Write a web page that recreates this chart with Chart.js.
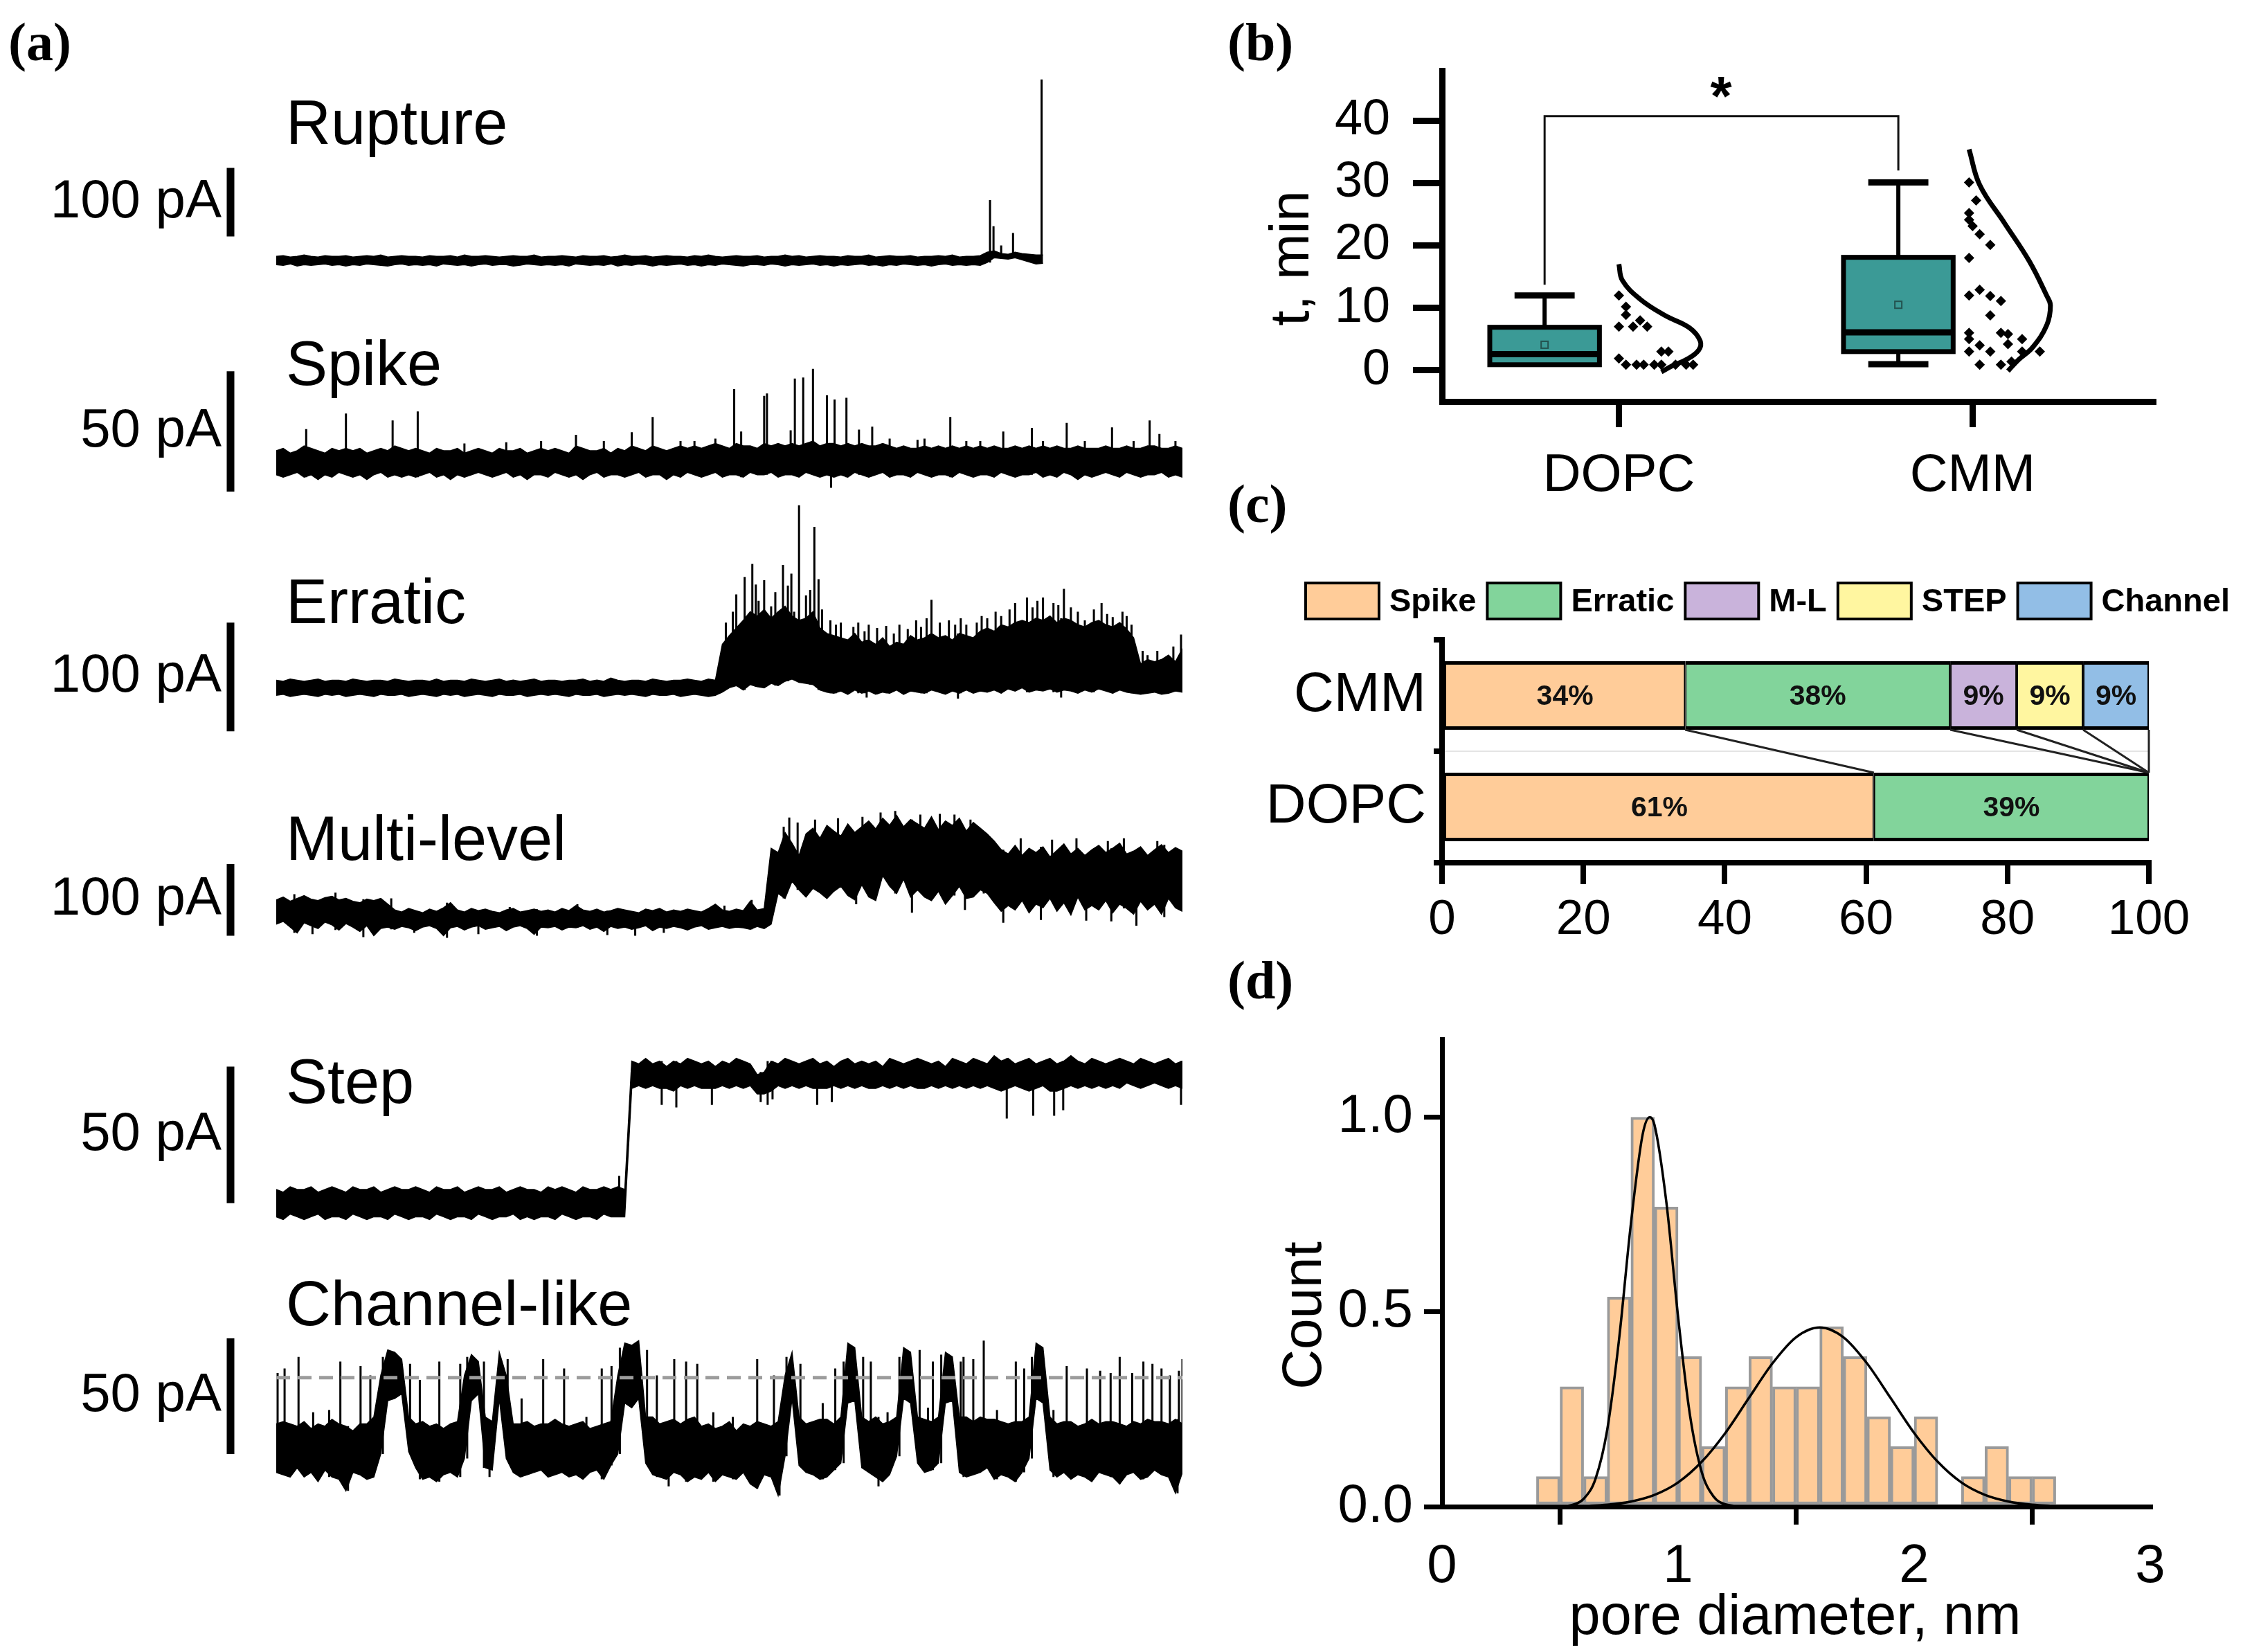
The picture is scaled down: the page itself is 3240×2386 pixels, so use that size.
<!DOCTYPE html>
<html>
<head>
<meta charset="utf-8">
<script src="https://cdn.jsdelivr.net/npm/chart.js@4.4.1/dist/chart.umd.min.js"></script>
<style>
  body { margin: 0; background: #fff; width: 3240px; height: 2386px; position: relative; overflow: hidden;
         font-family: "Liberation Sans", Arial, sans-serif; }
  canvas { position: absolute; }
  .t { position: absolute; line-height: 0; white-space: nowrap; color: #000; }
  .p { font-family: "Liberation Serif", "Times New Roman", serif; font-weight: bold; font-size: 78px; }
  .r { transform: translate(-50%, 0) rotate(-90deg); transform-origin: 50% 0; }
</style>
</head>
<body>
<div class="t p" style="left:12px;top:61px">(a)</div>
<div class="t p" style="left:1773px;top:61px">(b)</div>
<div class="t p" style="left:1773px;top:728px">(c)</div>
<div class="t p" style="left:1773px;top:1416px">(d)</div>
<div class="t r" style="left:1863px;top:373px;font-size:80px">t, min</div>
<div class="t" style="left:2486px;top:139px;font-size:80px;font-weight:bold;transform:translateX(-50%)">*</div>
<div class="t r" style="left:1881px;top:1900px;font-size:80px">Count</div>
<div class="t" style="left:2593px;top:2332px;font-size:81px;transform:translateX(-50%)">pore diameter, nm</div>
<script>
// ---------- (a) current traces: upper / lower envelope per time bin (pA) + single spikes [bin, pA] ----------
const traceNames = ['Rupture', 'Spike', 'Erratic', 'Multi-level', 'Step', 'Channel-like'];
const scaleBarPa = [100, 50, 100, 100, 50, 50];
const channelOpenLevel = 29;

const ruptureUpper = [
  6,7,5,6,8,6,5,7,6,6, 7,5,6,7,6,8,5,6,7,6, 6,5,7,6,6,7,5,8,6,6, 7,6,5,6,7,6,6,8,5,6,
  6,7,6,5,7,6,6,7,5,6, 8,6,6,7,5,6,7,6,6,5, 7,6,8,6,5,6,7,6,6,7, 5,6,6,8,6,7,5,6,7,6,
  6,5,7,6,6,8,5,6,7,6, 6,7,5,6,6,7,6,8,5,6, 6,7,12,14,10,9,12,10,9,8, 8];
const ruptureLower = [
  -6,-7,-5,-8,-6,-7,-6,-5,-7,-6, -8,-6,-7,-5,-6,-7,-8,-6,-5,-7, -6,-7,-6,-8,-5,-6,-7,-6,-8,-6,
  -5,-7,-6,-6,-8,-7,-5,-6,-7,-6, -7,-6,-8,-5,-6,-7,-6,-7,-5,-8, -6,-7,-5,-6,-8,-6,-7,-6,-5,-7,
  -6,-8,-6,-7,-5,-6,-7,-8,-6,-6, -7,-5,-6,-8,-6,-7,-6,-5,-7,-6, -8,-6,-7,-6,-5,-7,-6,-8,-6,-7,
  -5,-6,-7,-6,-8,-6,-5,-7,-6,-7, -6,-7,-3,4,3,2,4,1,-2,-5, -4];
const ruptureSpikes = [[102.4,88],[102.9,50],[104,22],[105.7,40],[109.8,264]];

const spikeUpper = [
  5,6,4,5,7,6,5,4,6,5, 6,5,6,4,5,6,5,7,6,5, 6,5,4,6,5,5,6,4,5,6, 5,4,6,5,5,6,4,5,6,5,
  6,5,4,7,6,5,5,6,4,6, 5,7,6,5,7,6,5,6,7,6, 7,6,7,8,7,6,8,7,7,6, 8,7,8,7,8,7,8,9,7,8,
  8,7,8,7,8,7,7,8,7,6, 7,6,6,7,6,7,6,7,6,7, 6,7,6,7,6,6,7,6,7,6, 7,6,7,6,6,7,6,6,6,7,
  6,6,7,6,6,7,7,6,6,7, 6];
const spikeLower = [
  -5,-6,-5,-4,-6,-5,-7,-5,-6,-4, -5,-6,-5,-7,-5,-4,-6,-5,-6,-5, -6,-5,-4,-6,-5,-7,-5,-6,-5,-4,
  -5,-6,-5,-4,-6,-5,-7,-5,-5,-6, -4,-5,-6,-5,-7,-5,-4,-6,-5,-5, -6,-5,-4,-6,-5,-5,-7,-5,-6,-4,
  -5,-6,-5,-4,-6,-5,-5,-6,-4,-5, -5,-4,-6,-5,-5,-6,-4,-5,-6,-5, -6,-5,-6,-4,-5,-6,-5,-4,-6,-5,
  -5,-6,-4,-5,-6,-5,-5,-6,-4,-5, -6,-5,-5,-6,-4,-5,-6,-5,-5,-4, -6,-5,-6,-4,-5,-7,-5,-6,-5,-4,
  -5,-6,-4,-5,-6,-5,-5,-4,-6,-5, -6];
const spikeSpikes = [[4.3,14],[10,20.5],[16.7,17.6],[20.3,21.3],[27,8],[33,8.5],[38,9],[43,11.6],[47,9],[51,12.7],
  [54,19],[58,9],[60,9],[63,10],[65.7,30.6],[66.7,13],[70,27.8],[70.4,28.8],[73.8,13.5],[74.4,35],[75.6,35.4],
  [77,39],[79,28],[79.6,-10.4],[80.1,26.3],[81.8,27],[83.6,13.8],[85.5,15],[88,10],[92,9.5],[93,10],[96.7,19],
  [99,9],[101,9],[104.3,13],[108.4,14.5],[110,9],[113.4,16.6],[116,9],[119.9,14.7],[123,9],[125.3,17.6],[126.7,12],[129,9]];

const erraticUpper = [
  7,6,8,7,6,7,8,6,7,7, 6,8,7,6,7,7,6,8,7,6, 7,7,6,8,6,7,7,6,8,7, 6,7,8,6,7,6,7,8,6,7,
  7,6,7,7,8,6,7,6,9,7, 6,7,7,6,8,7,6,7,7,8, 7,6,8,7,40,48,55,62,70,66, 72,64,70,75,66,62,64,70,55,50,
  48,46,44,50,42,44,40,46,38,42, 40,48,44,46,50,46,48,44,50,48, 46,52,55,52,58,56,60,62,60,64,
  62,66,60,64,62,58,56,60,62,58, 56,60,54,46,22,26,24,26,30,24, 36];
const erraticLower = [
  -7,-6,-8,-7,-6,-7,-8,-6,-7,-6, -8,-7,-6,-7,-8,-6,-7,-7,-6,-8, -7,-6,-7,-8,-6,-7,-6,-8,-7,-6,
  -7,-8,-6,-7,-7,-6,-8,-7,-6,-7, -6,-7,-8,-6,-7,-7,-6,-8,-7,-6, -7,-6,-7,-8,-6,-7,-7,-6,-8,-7,
  -6,-7,-8,-7,-4,0,2,-2,3,1, 0,4,2,6,8,5,4,3,-2,-4, -5,-3,-6,-2,-5,-3,-6,-4,-5,-2,
  -6,-3,-4,-5,-2,-4,-6,-3,-5,-2, -5,-3,-4,-2,-5,-1,-3,0,-4,-2, -3,-1,-4,-2,-3,-5,-2,-4,-1,-3,
  -5,-2,-4,-5,-6,-5,-4,-6,-5,-3, -4];
const erraticSpikes = [[64.5,60],[65.5,70],[66,86],[67.2,102],[68.3,114],[68.8,95],[69.2,80],[70,99],[71,75],
  [71.6,88],[72.7,113],[73.4,94],[73.9,105],[74.3,70],[75,168],[76,85],[76.6,90],[77.2,148],[77.8,100],[78.3,72],
  [79.5,62],[80.3,58],[81,60],[82.8,56],[83.5,60],[84.4,52],[84.7,-9],[85,58],[86.2,55],[87.5,57],[88.6,50],
  [89.4,58],[90.6,54],[91.8,62],[92.5,56],[93.3,64],[94,81],[95.2,60],[96.5,62],[97.4,58],[97.8,-10],[98.2,64],
  [99,58],[100.5,60],[101.2,66],[102,64],[103.2,70],[104,66],[105.2,72],[106,78],[107.7,83],[108.5,74],[109.2,80],
  [110,83],[111.5,78],[112.2,76],[112.6,-9],[113,91],[114,74],[115,70],[116,62],[117.3,72],[118.4,78],[119.2,68],
  [120,65],[121.4,70],[122,66],[122.7,58],[124.3,34],[125,30],[126.4,34],[127.6,30],[128.7,38],[129.8,49]];

const multiUpper = [
  26,30,24,28,32,27,25,29,31,26, 28,24,22,27,25,28,20,12,9,14, 11,8,13,10,15,22,12,9,14,11,
  13,10,8,12,14,9,11,13,10,12, 9,14,11,18,12,10,13,9,11,14, 12,10,8,13,11,14,9,12,10,13,
  11,9,14,20,12,10,13,11,24,12, 14,98,92,120,105,88,118,126,112,130, 122,115,132,120,128,136,125,140,130,144,
  128,138,132,126,142,124,136,130,140,122, 134,126,118,108,96,90,102,88,98,92, 100,86,95,104,90,98,88,96,102,92,
  98,105,90,94,100,88,96,103,92,99, 94];
const multiLower = [
  -8,-4,-12,-20,-6,-10,-14,-5,-9,-16, -7,-12,-18,-10,-24,-14,-12,-15,-11,-13, -17,-12,-10,-14,-24,-13,-11,-16,-12,-10,
  -15,-13,-11,-17,-12,-10,-14,-22,-12,-13, -11,-16,-12,-13,-10,-15,-12,-18,-11,-14, -12,-15,-13,-10,-17,-12,-14,-11,-13,-16,
  -12,-10,-15,-13,-11,-14,-12,-13,-15,-11, -14,-8,35,28,52,40,30,42,36,28, 38,45,32,26,47,30,25,60,45,35,
  55,30,40,30,25,38,20,32,45,28, 30,40,35,22,10,18,12,25,8,20, 15,28,10,22,5,30,12,18,12,25,
  8,20,14,6,24,12,20,6,28,15, 10];
const multiSpikes = [[2.6,34],[5.2,-22],[8.5,36],[12.5,-26],[16.5,28],[19.8,-20],[24.5,-27],[29,-22],[33.5,16],
  [37.4,-24],[43.2,20],[47.5,-23],[51.5,-24],[55.6,-20],[64.3,18],[68.2,26],[72.8,128],[73.6,141],[74.8,134],
  [77.3,138],[80.6,140],[83.2,20],[84.1,142],[86.7,148],[88.8,150],[91.2,8],[92.4,145],[95.2,146],[97.3,145],
  [98.8,12],[99.6,138],[101.5,120],[104.3,-6],[106.8,112],[109.7,-2],[111.3,110],[114.8,112],[116.2,-3],
  [119.3,108],[119.8,-4],[121.6,112],[123.4,-10],[126.4,108],[127.4,2]];

const stepUpper = [
  5,4,6,5,5,6,4,5,6,5, 4,6,5,5,6,4,5,6,5,5, 6,5,4,6,5,5,6,4,5,6, 5,5,6,4,5,6,5,5,4,6,
  5,6,5,4,6,5,5,6,5,6, 5,52,51,53,51,52,50,52,51,53, 52,51,52,50,52,51,53,52,51,47,
  48,52,51,53,52,51,52,53,51,52, 50,52,53,51,52,51,52,50,53,52, 51,52,53,52,51,52,50,53,52,51,
  53,52,51,54,52,53,51,52,53,51, 52,53,51,52,54,52,51,53,52,51, 52,53,52,51,53,52,51,52,53,51, 52];
const stepLower = [
  -5,-6,-4,-5,-6,-5,-4,-6,-5,-5, -6,-4,-5,-6,-5,-5,-6,-4,-5,-6, -5,-5,-6,-4,-5,-6,-5,-5,-6,-4,
  -5,-6,-5,-5,-4,-6,-5,-6,-5,-5, -6,-4,-5,-6,-5,-5,-6,-4,-5,-5, -5,42,43,42,43,42,42,41,43,42,
  43,42,42,42,43,42,43,42,43,40, 40,41,43,42,43,42,43,42,42,42, 43,42,43,42,43,42,42,43,42,43,
  42,43,42,42,43,42,43,42,43,42, 43,42,43,42,41,42,43,42,41,42, 43,41,41,42,43,42,43,42,43,42,
  43,42,44,43,42,43,44,43,42,43, 42];
const stepSpikes = [[49.2,10],[55.3,36],[57.4,35],[62.5,36],[69.5,37],[70.5,36],[71.2,38],[77.6,36],[79.7,37],
  [104.8,31],[108.6,32],[111.6,32],[112.9,34],[129.8,36]];

const channelUpper = [
  9,10,9,8,10,7,9,8,11,9, 8,6,9,9,12,30,41,40,37,12, 9,10,8,9,7,9,10,30,39,36,
  12,10,40,30,9,9,10,8,9,9, 11,9,8,9,10,7,8,9,10,30, 44,43,45,12,12,9,10,11,9,11,
  12,8,9,7,8,10,6,9,8,10, 9,8,10,30,40,12,9,10,11,11, 9,12,44,42,12,10,12,9,10,12,
  42,40,12,11,10,12,40,38,12,12, 10,12,11,11,10,9,10,10,12,44, 42,12,9,10,10,8,9,11,9,10,
  10,9,8,10,9,11,10,10,9,11, 9];
const channelLower = [
  -12,-13,-14,-10,-14,-12,-16,-11,-14,-15, -20,-12,-13,-15,-14,-4,19,20,22,-3, -10,-15,-14,-16,-13,-12,-14,-6,19,22,
  -10,-11,20,-6,-12,-14,-13,-12,-11,-14, -13,-12,-14,-13,-15,-12,-11,-15,-9,-4, 18,16,20,-8,-13,-14,-15,-12,-13,-16,
  -14,-15,-12,-16,-13,-14,-15,-12,-17,-19, -13,-14,-22,-5,20,-9,-12,-13,-15,-14, -11,-8,18,19,-10,-12,-14,-16,-13,-5,
  20,18,-8,-12,-11,-8,18,19,-12,-14, -13,-12,-10,-15,-13,-14,-16,-12,-6,20, 18,-11,-14,-12,-15,-13,-14,-16,-12,-13,
  -14,-17,-13,-12,-15,-14,-11,-13,-14,-21, -12];
const channelSpikes = [[0.2,31],[1.2,33],[3.2,38],[5.3,14],[7.6,15],[9.2,36],[10.3,-20],[12.1,34],[13.5,30],
  [15.3,38],[19.2,35],[20.6,28],[23.4,36],[26.4,35],[27.4,38],[29.8,36],[30.6,-14],[33.2,37],[35.2,20],[38.3,37],
  [41.3,33],[44.5,12],[46.7,33],[48.1,34],[49.3,42],[53.2,41],[54.6,30],[56.3,-18],[57.1,37],[58.8,36],[60.4,35],
  [62.7,14],[65.5,12],[69,37],[71.4,30],[72.2,-22],[73.2,38],[75.2,35],[78.4,18],[80.2,33],[81.4,36],[84.2,38],
  [85.3,36],[86.4,-18],[87.7,14],[89.4,38],[92.3,41],[93.5,16],[94.2,36],[95.4,39],[98.2,36],[98.6,38],[100,37],
  [101.5,45],[103.4,15],[106.1,36],[107.3,33],[108.4,38],[111.5,15],[113.4,34],[116.3,33],[118.2,32],[119.7,31],
  [121,38],[122.8,31],[124.4,36],[125.7,35],[127,33],[128.2,30],[129.3,-21],[129.5,32],[130,37]];

// ---------- (b) time to event, min ----------
const groups = ['DOPC', 'CMM'];
const groupPos = [1, 2];
const bTicks = [0, 10, 20, 30, 40];
const boxMin = [0.9, 1.0];
const boxQ1 = [0.9, 3.0];
const boxMedian = [2.6, 6.1];
const boxQ3 = [6.9, 18.1];
const boxMax = [12.0, 30.1];
const boxMean = [4.1, 10.5];
const dopcPoints = [[1.00,12.0],[1.02,10.2],[1.02,8.9],[1.06,8.0],[1.00,7.0],[1.04,7.0],[1.08,7.0],[1.12,3.0],[1.14,3.0],
  [1.00,1.9],[1.02,0.9],[1.05,0.9],[1.07,0.9],[1.10,0.9],[1.12,0.9],[1.16,0.9],[1.19,0.9],[1.21,0.9]];
const cmmPoints = [[1.99,30.1],[2.01,27.2],[1.99,25.2],[1.99,24.1],[2.00,23.1],[2.02,21.8],[2.05,20.1],[1.99,18.0],
  [2.02,12.9],[1.99,12.0],[2.05,11.9],[2.08,11.1],[2.05,8.8],[1.99,6.0],[2.08,6.0],[2.10,5.8],[1.99,5.0],[2.14,5.0],
  [2.10,4.2],[2.02,4.0],[1.99,3.0],[2.05,3.0],[2.14,3.0],[2.19,3.0],[2.02,0.9],[2.08,0.9],[2.11,1.4]];
const dopcCurve = [[1.00,17.0],[1.01,14.4],[1.06,11.4],[1.13,8.8],[1.20,6.8],[1.23,4.7],[1.225,3.2],[1.19,1.7],[1.15,0.7],[1.12,-0.25]];
const cmmCurve = [[1.99,35.4],[2.02,29.7],[2.09,23.6],[2.16,17.5],[2.21,11.9],[2.22,10.4],[2.21,7.3],[2.17,3.7],[2.13,1.7],[2.10,-0.1]];
const sigLevel = 40.7;
const sigEnds = [13.7, 32.0];

// ---------- (c) event type shares, % ----------
const compositions = ['CMM', 'DOPC'];
const typeNames = ['Spike', 'Erratic', 'M-L', 'STEP', 'Channel'];
const cmmShare = [34.4, 37.5, 9.4, 9.4, 9.3];
const dopcShare = [61.1, 38.9, 0, 0, 0];
const cTicks = [0, 20, 40, 60, 80, 100];

// ---------- (d) pore diameter histogram ----------
const binCenters = [0.45,0.55,0.65,0.75,0.85,0.95,1.05,1.15,1.25,1.35,1.45,1.55,1.65,1.75,1.85,1.95,2.05,2.15,2.25,2.35,2.45,2.55];
const binCounts = [0.077,0.308,0.077,0.538,1.0,0.769,0.385,0.154,0.308,0.385,0.308,0.308,0.462,0.385,0.231,0.154,0.231,0,0.077,0.154,0.077,0.077];
const fitNarrow = [[0.40,0],[0.50,0.001],[0.55,0.004],[0.60,0.020],[0.65,0.071],[0.70,0.198],[0.75,0.430],[0.80,0.726],[0.85,0.956],
  [0.88,1.0],[0.90,0.980],[0.95,0.783],[1.00,0.487],[1.05,0.236],[1.10,0.089],[1.15,0.026],[1.20,0.006],[1.30,0]];
const fitWide = [[0.6,0.002],[0.7,0.005],[0.8,0.013],[0.9,0.030],[1.0,0.062],[1.1,0.115],[1.2,0.189],[1.3,0.279],[1.4,0.368],
  [1.5,0.435],[1.6,0.460],[1.7,0.435],[1.8,0.368],[1.9,0.279],[2.0,0.189],[2.1,0.115],[2.2,0.062],[2.3,0.030],[2.4,0.013],[2.5,0.005],[2.6,0.002]];
const dTicksX = [0, 1, 2, 3];
const dTicksY = [0, 0.5, 1.0];

// ---------------------------------------------------------------------------
const FONT = '"Liberation Sans", Arial, sans-serif';
Chart.defaults.font.family = FONT;
Chart.defaults.color = '#000';

function addCanvas(left, top, w, h) {
  const c = document.createElement('canvas');
  c.width = w; c.height = h;
  c.style.left = left + 'px'; c.style.top = top + 'px';
  document.body.appendChild(c);
  return c;
}

function addText(txt, left, baseline, size) {
  const d = document.createElement('div');
  d.className = 't';
  d.textContent = txt;
  d.style.left = left + 'px';
  d.style.top = Math.round(baseline - 0.3465 * size) + 'px';
  d.style.fontSize = size + 'px';
  document.body.appendChild(d);
}

const xy = arr => arr.map(([x, y]) => ({ x, y }));

function baseOptions(padding) {
  return {
    responsive: false, animation: false, events: [], devicePixelRatio: 1,
    layout: { padding },
    plugins: { legend: { display: false }, tooltip: { enabled: false } },
  };
}

function axisStyle(tickLength, width, fontSize, padding) {
  return {
    grid: { drawOnChartArea: false, tickLength, lineWidth: width, tickWidth: width, tickColor: '#000', color: '#000' },
    border: { display: true, width, color: '#000' },
    ticks: { font: { size: fontSize }, color: '#000', padding, autoSkip: false, maxRotation: 0 },
  };
}

// ---------- (a) ----------
const N_BINS = 130;
const traceData = [
  [ruptureUpper, ruptureLower, ruptureSpikes], [spikeUpper, spikeLower, spikeSpikes],
  [erraticUpper, erraticLower, erraticSpikes], [multiUpper, multiLower, multiSpikes],
  [stepUpper, stepLower, stepSpikes], [channelUpper, channelLower, channelSpikes],
];
// placement of each trace on the page
const traceGeom = [
  { y0: 376,  k: 0.99,  yMin: -20, yMax: 280, barFrom: 35,  title: 208 },
  { y0: 668,  k: 3.47,  yMin: -14, yMax: 45,  barFrom: -12, title: 556 },
  { y0: 993,  k: 1.57,  yMin: -45, yMax: 185, barFrom: -40, title: 900 },
  { y0: 1326, k: 1.033, yMin: -40, yMax: 160, barFrom: -24, title: 1242 },
  { y0: 1737, k: 3.94,  yMin: -12, yMax: 60,  barFrom: 0,   title: 1593 },
  { y0: 2087, k: 3.34,  yMin: -25, yMax: 52,  barFrom: -4,  title: 1914 },
];

// vertical hairline from the band edge to each spike value
function hairData(spikes, upper, lower) {
  const out = [];
  spikes.forEach(([pos, peak]) => {
    const b = Math.min(upper.length - 1, Math.max(0, Math.round(pos)));
    const base = peak > upper[b] ? lower[b] : upper[b];
    out.push({ x: pos, y: base }, { x: pos, y: peak }, { x: pos, y: null });
  });
  return out;
}

const scaleBarPlugin = {
  id: 'scaleBar',
  afterDraw(chart, args, opts) {
    const { ctx, chartArea, scales: { y } } = chart;
    const x = chartArea.left - 66;
    const yA = y.getPixelForValue(opts.from);
    const yB = y.getPixelForValue(opts.from + opts.size);
    ctx.save();
    ctx.strokeStyle = '#000';
    ctx.lineWidth = 11;
    ctx.beginPath(); ctx.moveTo(x, yA); ctx.lineTo(x, yB); ctx.stroke();
    ctx.font = '78px ' + FONT;
    ctx.fillStyle = '#000';
    ctx.textAlign = 'right';
    ctx.textBaseline = 'middle';
    ctx.fillText(opts.size + ' pA', x - 13, (yA + yB) / 2);
    ctx.restore();
  },
};

traceData.forEach(([upper, lower, spikes], i) => {
  const g = traceGeom[i];
  const top = Math.round(g.y0 - g.yMax * g.k);
  const h = Math.round((g.yMax - g.yMin) * g.k);
  const cv = addCanvas(0, top, 1720, h);
  const pts = a => a.map((v, j) => ({ x: j, y: v }));
  const datasets = [
    { data: hairData(spikes, upper, lower), borderColor: '#000', borderWidth: 3, pointRadius: 0, fill: false, spanGaps: false },
    { data: pts(upper), fill: '+1', backgroundColor: '#000', borderColor: '#000', borderWidth: 1.5, pointRadius: 0 },
    { data: pts(lower), fill: false, borderColor: '#000', borderWidth: 1.5, pointRadius: 0 },
  ];
  if (traceNames[i] === 'Channel-like') {
    datasets.unshift({
      data: [{ x: 0, y: channelOpenLevel }, { x: N_BINS, y: channelOpenLevel }],
      borderColor: '#9c9c9c', borderWidth: 5, borderDash: [20, 11], pointRadius: 0, fill: false,
    });
  }
  const opts = baseOptions({ left: 399, right: 12, top: 0, bottom: 0 });
  opts.plugins.scaleBar = { from: g.barFrom, size: scaleBarPa[i] };
  opts.elements = { line: { tension: 0 } };
  opts.scales = {
    x: { type: 'linear', min: 0, max: N_BINS, display: false },
    y: { type: 'linear', min: g.yMin, max: g.yMax, display: false },
  };
  new Chart(cv, { type: 'line', data: { datasets }, options: opts, plugins: [scaleBarPlugin] });
  addText(traceNames[i], 413, g.title, 90);
});

// ---------- (b) ----------
const BOX_SHIFT = -0.21, BOX_HALF = 0.155, CAP_HALF = 0.085;
const boxPlugin = {
  id: 'boxes',
  afterDatasetsDraw(chart) {
    const { ctx, scales: { x, y } } = chart;
    const line = (x1, y1, x2, y2) => { ctx.beginPath(); ctx.moveTo(x1, y1); ctx.lineTo(x2, y2); ctx.stroke(); };
    ctx.save();
    ctx.strokeStyle = '#000';
    groups.forEach((g, i) => {
      const c = groupPos[i] + BOX_SHIFT;
      const xl = x.getPixelForValue(c - BOX_HALF), xr = x.getPixelForValue(c + BOX_HALF);
      const xm = x.getPixelForValue(c);
      const cl = x.getPixelForValue(c - CAP_HALF), cr = x.getPixelForValue(c + CAP_HALF);
      const yMin = y.getPixelForValue(boxMin[i]), yMax = y.getPixelForValue(boxMax[i]);
      const yQ1 = y.getPixelForValue(boxQ1[i]), yQ3 = y.getPixelForValue(boxQ3[i]);
      const yMed = y.getPixelForValue(boxMedian[i]), yMean = y.getPixelForValue(boxMean[i]);
      ctx.lineWidth = 6;
      line(xm, yQ3, xm, yMax);
      if (boxMin[i] < boxQ1[i]) line(xm, yQ1, xm, yMin);
      ctx.lineWidth = 9;
      line(cl, yMax, cr, yMax);
      if (boxMin[i] < boxQ1[i]) line(cl, yMin, cr, yMin);
      ctx.fillStyle = '#3b9a96';
      ctx.fillRect(xl, yQ3, xr - xl, yQ1 - yQ3);
      ctx.lineWidth = 7;
      ctx.strokeRect(xl, yQ3, xr - xl, yQ1 - yQ3);
      ctx.lineWidth = 9;
      line(xl, yMed, xr, yMed);
      ctx.lineWidth = 2;
      ctx.strokeStyle = '#23524f';
      ctx.strokeRect(xm - 5, yMean - 5, 10, 10);
      ctx.strokeStyle = '#000';
    });
    ctx.restore();
  },
};

{
  const cv = addCanvas(1780, 0, 1460, 760);
  const left = groupPos[0] + BOX_SHIFT, right = groupPos[1] + BOX_SHIFT;
  const bracket = [[left, sigEnds[0]], [left, sigLevel], [right, sigLevel], [right, sigEnds[1]]];
  const opts = baseOptions({ left: 0, top: 102, right: 130, bottom: 0 });
  opts.scales = {
    x: Object.assign(axisStyle(37, 9, 76, 25), {
      type: 'linear', min: 0.5, max: 2.51,
      afterFit: s => { s.height = 180; },
      afterBuildTicks: s => { s.ticks = groupPos.map(v => ({ value: v })); },
    }),
    y: Object.assign(axisStyle(42, 9, 72, 33), {
      type: 'linear', min: -5, max: 48,
      afterFit: s => { s.width = 303; },
      afterBuildTicks: s => { s.ticks = bTicks.map(v => ({ value: v })); },
    }),
  };
  opts.scales.x.ticks.callback = v => groups[groupPos.indexOf(v)];
  new Chart(cv, {
    type: 'scatter',
    data: {
      datasets: [
        { data: xy(dopcPoints), pointStyle: 'rectRot', pointRadius: 7.5, backgroundColor: '#000', borderWidth: 0 },
        { data: xy(cmmPoints), pointStyle: 'rectRot', pointRadius: 7.5, backgroundColor: '#000', borderWidth: 0 },
        { data: xy(dopcCurve), showLine: true, pointRadius: 0, borderColor: '#000', borderWidth: 7, tension: 0.4 },
        { data: xy(cmmCurve), showLine: true, pointRadius: 0, borderColor: '#000', borderWidth: 7, tension: 0.4 },
        { data: xy(bracket), showLine: true, pointRadius: 0, borderColor: '#111', borderWidth: 3, tension: 0 },
      ],
    },
    options: opts,
    plugins: [boxPlugin],
  });
}

// ---------- (c) ----------
const typeColors = ['#FFCC99', '#82D49B', '#C9B3DB', '#FFF6A0', '#92BEE6'];

const percentPlugin = {
  id: 'pct',
  afterDatasetsDraw(chart) {
    const { ctx } = chart;
    ctx.save();
    ctx.font = 'bold 41px ' + FONT;
    ctx.fillStyle = '#111';
    ctx.textAlign = 'center';
    ctx.textBaseline = 'middle';
    chart.data.datasets.forEach((ds, i) => {
      chart.getDatasetMeta(i).data.forEach((el, j) => {
        const v = ds.data[j];
        if (!v) return;
        ctx.fillText(Math.round(v) + '%', (el.x + el.base) / 2, el.y + 2);
      });
    });
    ctx.restore();
  },
};

const linkPlugin = {
  id: 'links',
  afterDatasetsDraw(chart) {
    const { ctx, scales: { x } } = chart;
    const meta = chart.getDatasetMeta(0);
    const upper = meta.data[0], lower = meta.data[1];
    const yA = upper.y + upper.height / 2, yB = lower.y - lower.height / 2;
    let sa = 0, sb = 0;
    ctx.save();
    ctx.strokeStyle = '#222';
    ctx.lineWidth = 3;
    typeNames.forEach((n, i) => {
      sa += cmmShare[i]; sb += dopcShare[i];
      ctx.beginPath();
      ctx.moveTo(x.getPixelForValue(Math.min(sa, 100)), yA);
      ctx.lineTo(x.getPixelForValue(Math.min(sb, 100)), yB);
      ctx.stroke();
    });
    ctx.restore();
  },
};

const legendPlugin = {
  id: 'boxLegend',
  afterDraw(chart) {
    const { ctx, chartArea } = chart;
    let x = chartArea.left - 197;
    const yc = chartArea.top - 56;
    ctx.save();
    ctx.font = 'bold 47px ' + FONT;
    ctx.textBaseline = 'middle';
    ctx.textAlign = 'left';
    chart.data.datasets.forEach(ds => {
      ctx.fillStyle = ds.backgroundColor;
      ctx.fillRect(x, yc - 26, 106, 52);
      ctx.lineWidth = 4;
      ctx.strokeStyle = '#000';
      ctx.strokeRect(x, yc - 26, 106, 52);
      x += 121;
      ctx.fillStyle = '#000';
      ctx.fillText(ds.label, x, yc + 2);
      x += ctx.measureText(ds.label).width + 16;
    });
    ctx.restore();
  },
};

{
  const cv = addCanvas(1780, 760, 1460, 640);
  const opts = baseOptions({ left: 0, top: 164, right: 136, bottom: 0 });
  opts.indexAxis = 'y';
  opts.scales = {
    x: Object.assign(axisStyle(31, 8, 71, 10), {
      type: 'linear', stacked: true, min: 0, max: 100,
      afterFit: s => { s.height = 154; },
      afterBuildTicks: s => { s.ticks = cTicks.map(v => ({ value: v })); },
    }),
    y: Object.assign(axisStyle(12, 8, 80, 11), {
      type: 'category', stacked: true, offset: true,
      afterFit: s => { s.width = 303; },
    }),
  };
  opts.scales.y.grid = {
    offset: true, drawOnChartArea: true, lineWidth: 2,
    color: c => (c.index === 1 ? '#e4e4e4' : 'rgba(0,0,0,0)'),
    tickLength: 12, tickWidth: 8, tickColor: '#000',
  };
  new Chart(cv, {
    type: 'bar',
    data: {
      labels: compositions,
      datasets: typeNames.map((n, i) => ({
        label: n,
        data: [cmmShare[i], dopcShare[i]],
        backgroundColor: typeColors[i],
        borderColor: '#000',
        borderWidth: { top: 5, bottom: 5, left: 2, right: 2 },
        borderSkipped: false,
        barPercentage: 0.615,
        categoryPercentage: 1,
      })),
    },
    options: opts,
    plugins: [percentPlugin, linkPlugin, legendPlugin],
  });
}

// ---------- (d) ----------
{
  const cv = addCanvas(1780, 1400, 1460, 986);
  const opts = baseOptions({ left: 0, top: 101, right: 134, bottom: 0 });
  opts.scales = {
    x: Object.assign(axisStyle(26, 7, 78, 15), {
      type: 'linear', min: 0, max: 3, offset: false,
      afterFit: s => { s.height = 210; },
      afterBuildTicks: s => { s.ticks = dTicksX.map(v => ({ value: v })); },
    }),
    y: Object.assign(axisStyle(26, 7, 78, 16), {
      type: 'linear', min: 0, max: 1.2,
      afterFit: s => { s.width = 303; },
      afterBuildTicks: s => { s.ticks = dTicksY.map(v => ({ value: v })); },
    }),
  };
  opts.scales.y.ticks.callback = v => v.toFixed(1);
  new Chart(cv, {
    type: 'bar',
    data: {
      datasets: [
        { type: 'line', data: xy(fitNarrow), borderColor: '#000', borderWidth: 3.5, pointRadius: 0, cubicInterpolationMode: 'monotone', fill: false },
        { type: 'line', data: xy(fitWide), borderColor: '#000', borderWidth: 3.5, pointRadius: 0, cubicInterpolationMode: 'monotone', fill: false },
        {
          type: 'bar',
          data: binCenters.map((c, i) => ({ x: c, y: binCounts[i] })),
          backgroundColor: '#FFCC99', borderColor: '#9a9a9a', borderWidth: 4, borderSkipped: false,
          barPercentage: 1, categoryPercentage: 1,
        },
      ],
    },
    options: opts,
  });
}
</script>
</body>
</html>
